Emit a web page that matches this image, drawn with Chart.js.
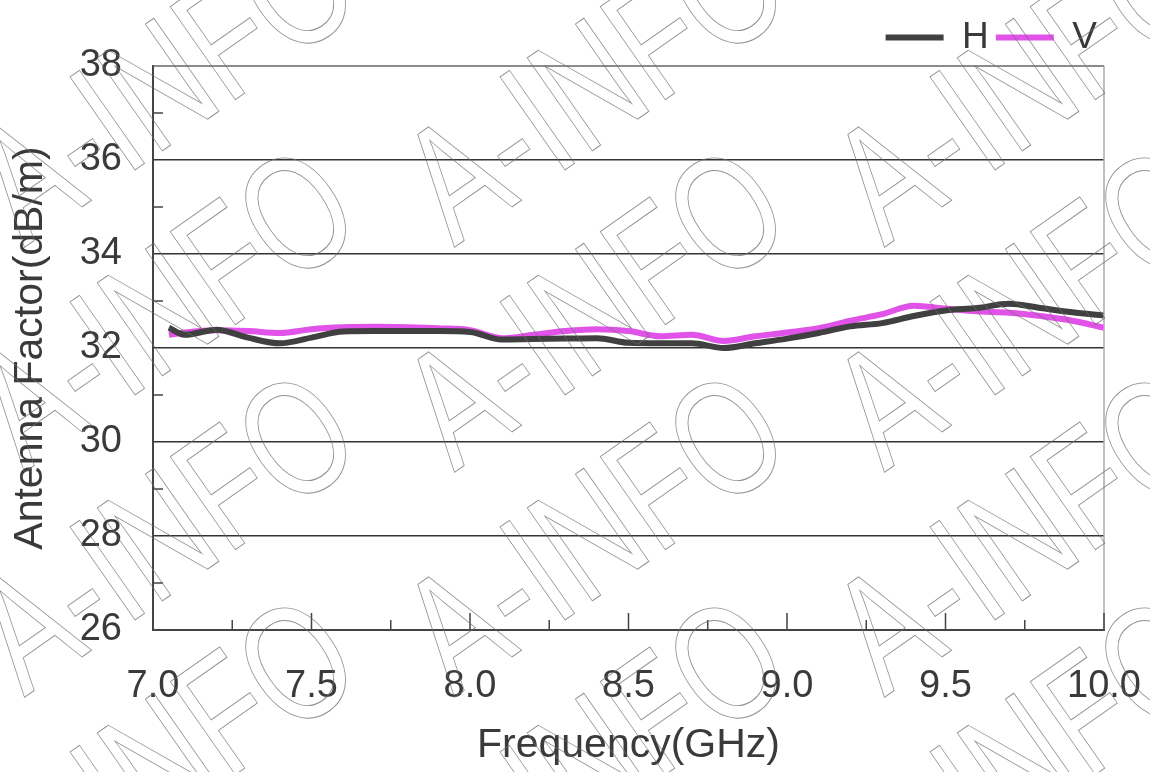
<!DOCTYPE html>
<html>
<head>
<meta charset="utf-8">
<script src="https://cdn.jsdelivr.net/npm/chart.js@4.4.1/dist/chart.umd.min.js"></script>
<style>
  html, body { margin: 0; padding: 0; background: #fff; }
  #wrap { width: 1150px; height: 772px; }
</style>
</head>
<body>
<div id="wrap"><canvas id="myChart"></canvas></div>
<script>
// frecuencias (GHz) y factor de antena (dB/m)
const freqs = [7.05, 7.1, 7.2, 7.3, 7.4, 7.5, 7.6, 7.7, 7.8, 7.9, 8.0, 8.1, 8.2, 8.3, 8.4, 8.5,
               8.6, 8.7, 8.8, 8.9, 9.0, 9.1, 9.2, 9.3, 9.4, 9.5, 9.6, 9.7, 9.8, 9.9, 10.0];
const hValues = [32.43, 32.28, 32.39, 32.22, 32.10, 32.22, 32.35, 32.36, 32.36, 32.36, 32.34, 32.18, 32.19, 32.20, 32.21, 32.11,
                 32.10, 32.10, 32.00, 32.10, 32.20, 32.32, 32.46, 32.53, 32.68, 32.80, 32.85, 32.94, 32.85, 32.76, 32.69];
const vValues = [32.28, 32.33, 32.38, 32.36, 32.32, 32.40, 32.44, 32.45, 32.44, 32.42, 32.38, 32.21, 32.28, 32.36, 32.40, 32.36,
                 32.25, 32.28, 32.15, 32.25, 32.33, 32.42, 32.58, 32.72, 32.90, 32.84, 32.78, 32.75, 32.68, 32.58, 32.43];
const seriesNames = ['H', 'V'];
const yTicks = [26, 28, 30, 32, 34, 36, 38];
const xTicks = [7.0, 7.5, 8.0, 8.5, 9.0, 9.5, 10.0];

const textColor = '#3a3a3a';
const fontFamily = 'Arial, "Liberation Sans", sans-serif';

const toPoints = (xs, ys) => xs.map((x, i) => ({ x: x, y: ys[i] }));

// ticks hacia dentro y marco gris arriba/derecha
const ejes = {
    id: 'ejes',
    afterDatasetsDraw(chart) {
        const { ctx, chartArea: a, scales } = chart;
        ctx.save();
        ctx.strokeStyle = '#666';
        ctx.lineWidth = 1.5;
        ctx.beginPath();
        ctx.moveTo(a.left, a.top); ctx.lineTo(a.right, a.top);
        ctx.stroke();
        ctx.strokeStyle = '#aaa';
        ctx.beginPath();
        ctx.moveTo(a.right, a.top); ctx.lineTo(a.right, a.bottom);
        ctx.stroke();
        ctx.strokeStyle = '#444';
        ctx.beginPath();
        for (let v = 27; v < 38; v += 2) {
            const y = scales.y.getPixelForValue(v);
            ctx.moveTo(a.left, y); ctx.lineTo(a.left + 10, y);
        }
        for (let v = 7.25; v <= 10; v += 0.25) {
            const x = scales.x.getPixelForValue(v);
            const len = Math.abs(v * 2 - Math.round(v * 2)) < 1e-6 ? 17 : 10;
            ctx.moveTo(x, a.bottom); ctx.lineTo(x, a.bottom - len);
        }
        ctx.stroke();
        ctx.restore();
    }
};

// marca de agua A-INFO
const marca = {
    id: 'marca',
    afterDraw(chart) {
        const ctx = chart.ctx;
        ctx.save();
        ctx.strokeStyle = 'rgba(110,110,110,0.75)';
        ctx.lineWidth = 1;
        ctx.font = '165px Arial, "Liberation Sans", sans-serif';
        ctx.textAlign = 'center';
        ctx.textBaseline = 'middle';
        [170, 600, 1030].forEach(cx => {
            [90, 315, 540, 765].forEach(cy => {
                ctx.save();
                ctx.translate(cx, cy);
                ctx.rotate(-35 * Math.PI / 180);
                ctx.scale(0.75, 1);
                ctx.strokeText('A-INFO', 0, 0);
                ctx.restore();
            });
        });
        ctx.restore();
    }
};

const ctx = document.getElementById('myChart');

new Chart(ctx, {
    type: 'line',
    data: {
        datasets: [{
            label: seriesNames[0],
            data: toPoints(freqs, hValues),
            borderColor: '#404040',
            backgroundColor: '#404040',
            borderWidth: 6,
            pointRadius: 0,
            tension: 0.4,
            cubicInterpolationMode: 'monotone'
        }, {
            label: seriesNames[1],
            data: toPoints(freqs, vValues),
            borderColor: '#e052e8',
            backgroundColor: '#e052e8',
            borderWidth: 6,
            pointRadius: 0,
            tension: 0.4,
            cubicInterpolationMode: 'monotone'
        }]
    },
    options: {
        responsive: true,
        maintainAspectRatio: false,
        animation: false,
        layout: { padding: { left: 0, right: 46, top: 0, bottom: 0 } },
        plugins: {
            legend: {
                position: 'top',
                align: 'end',
                labels: {
                    boxWidth: 58,
                    boxHeight: 6,
                    padding: 7,
                    color: textColor,
                    font: { size: 37, family: fontFamily },
                    generateLabels: chart => chart.data.datasets.map((d, i) => ({
                        text: d.label,
                        fillStyle: d.borderColor,
                        strokeStyle: d.borderColor,
                        lineWidth: 0,
                        hidden: false,
                        datasetIndex: i,
                        fontColor: textColor
                    }))
                }
            },
            tooltip: { enabled: false }
        },
        scales: {
            x: {
                type: 'linear',
                min: 7.0,
                max: 10.0,
                afterBuildTicks: axis => { axis.ticks = xTicks.map(v => ({ value: v })); },
                afterFit: axis => { axis.height = 142; axis.paddingLeft = 0; axis.paddingRight = 2; },
                ticks: {
                    color: textColor,
                    font: { size: 38, family: fontFamily },
                    padding: 34,
                    maxRotation: 0,
                    callback: v => Number(v).toFixed(1)
                },
                grid: { drawOnChartArea: false, drawTicks: false },
                border: { display: true, color: '#444', width: 2 },
                title: {
                    display: true,
                    text: 'Frequency(GHz)',
                    color: textColor,
                    font: { size: 41, family: fontFamily },
                    padding: { top: 2, bottom: 2 }
                }
            },
            y: {
                min: 26,
                max: 38,
                afterBuildTicks: axis => { axis.ticks = yTicks.map(v => ({ value: v })); },
                afterFit: axis => { axis.width = 153; axis.paddingTop = 66; },
                ticks: {
                    color: textColor,
                    font: { size: 38, family: fontFamily },
                    padding: 31
                },
                grid: {
                    drawTicks: false,
                    color: ctx => (ctx.tick && (ctx.tick.value === 26 || ctx.tick.value === 38)) ? 'rgba(0,0,0,0)' : '#333',
                    lineWidth: 1.5
                },
                border: { display: true, color: '#444', width: 2 },
                title: {
                    display: true,
                    text: 'Antenna Factor(dB/m)',
                    color: textColor,
                    font: { size: 41, family: fontFamily },
                    padding: { top: 6, bottom: 6 }
                }
            }
        }
    },
    plugins: [ejes, marca]
});
</script>
</body>
</html>
